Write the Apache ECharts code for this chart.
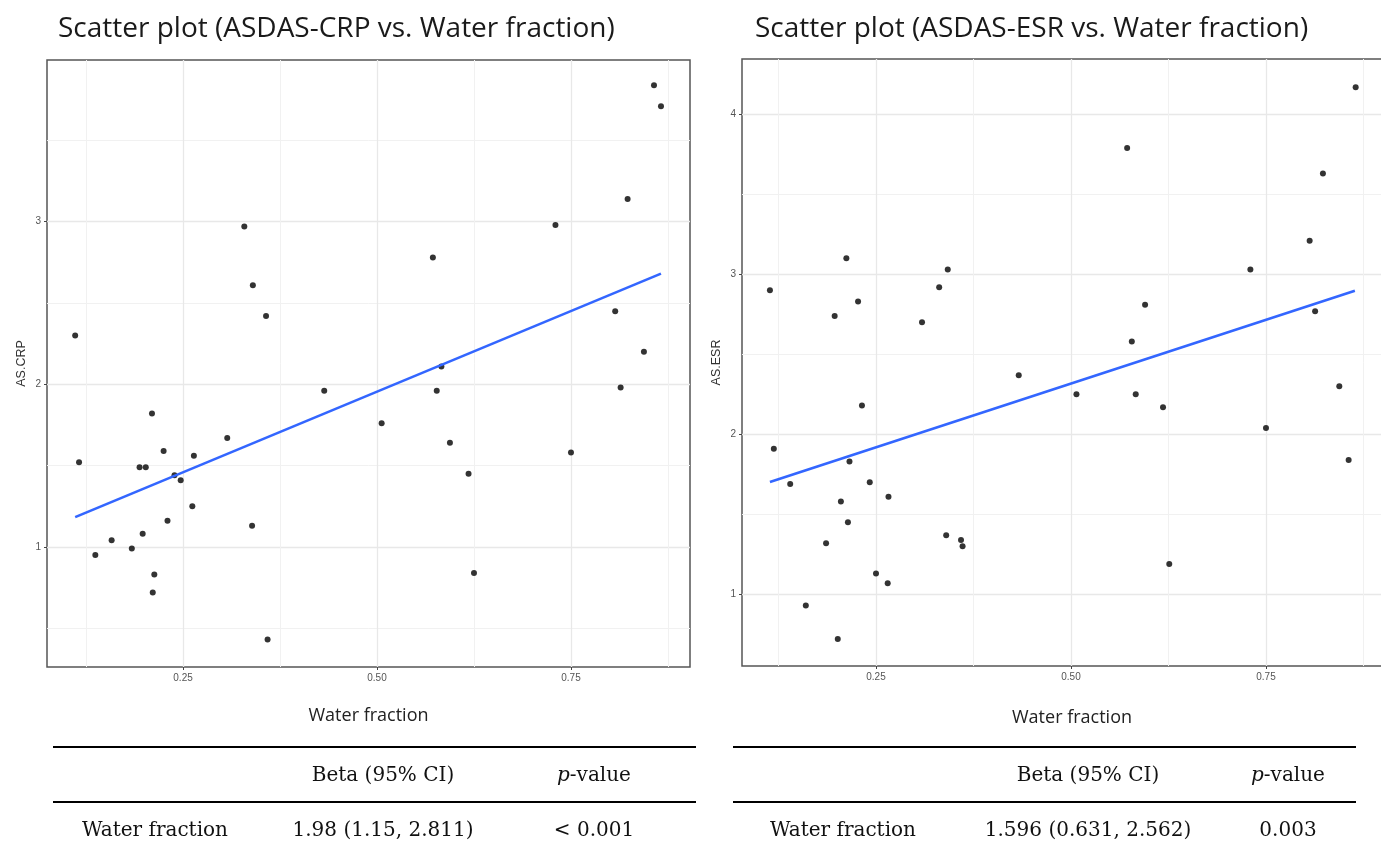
<!DOCTYPE html>
<html><head><meta charset="utf-8">
<script src="https://cdn.jsdelivr.net/npm/echarts@6/dist/echarts.min.js"></script>
<style>html,body{margin:0;padding:0;background:#fff}#c{width:1381px;height:852px}</style>
</head><body><div id="c"></div>
<script>
// ---- data ----
const crpWater = [0.111,0.329,0.340,0.357,0.857,0.866,0.823,0.730,0.572,0.807,0.844,0.583,0.116,0.137,0.158,0.184,0.194,0.202,0.198,0.210,0.213,0.211,0.225,0.230,0.239,0.247,0.262,0.264,0.307,0.339,0.359,0.432,0.577,0.506,0.594,0.618,0.625,0.750,0.814];
const crpScore = [2.30,2.97,2.61,2.42,3.84,3.71,3.14,2.98,2.78,2.45,2.20,2.11,1.52,0.95,1.04,0.99,1.49,1.49,1.08,1.82,0.83,0.72,1.59,1.16,1.44,1.41,1.25,1.56,1.67,1.13,0.43,1.96,1.96,1.76,1.64,1.45,0.84,1.58,1.98];
const esrWater = [0.114,0.197,0.212,0.227,0.309,0.331,0.342,0.433,0.865,0.572,0.823,0.806,0.730,0.595,0.578,0.813,0.844,0.119,0.140,0.160,0.186,0.201,0.205,0.214,0.216,0.232,0.242,0.250,0.265,0.266,0.340,0.359,0.361,0.507,0.583,0.618,0.626,0.750,0.856];
const esrScore = [2.90,2.74,3.10,2.83,2.70,2.92,3.03,2.37,4.17,3.79,3.63,3.21,3.03,2.81,2.58,2.77,2.30,1.91,1.69,0.93,1.32,0.72,1.58,1.45,1.83,2.18,1.70,1.13,1.07,1.61,1.37,1.34,1.30,2.25,2.25,2.17,1.19,2.04,1.84];
// fitted lines (endpoints)
const crpFitX = [0.111, 0.866];
const crpFitY = [1.183, 2.681];
const esrFitX = [0.114, 0.864];
const esrFitY = [1.702, 2.898];
// ticks
const xTicks = [0.25, 0.50, 0.75];
const xMinor = [0.125, 0.375, 0.625, 0.875];
const crpYTicks = [1, 2, 3];
const crpYMinor = [0.5, 1.5, 2.5, 3.5];
const esrYTicks = [1, 2, 3, 4];
const esrYMinor = [1.5, 2.5, 3.5];
// titles and table
const titles = ['Scatter plot (ASDAS-CRP vs. Water fraction)', 'Scatter plot (ASDAS-ESR vs. Water fraction)'];
const yNames = ['AS.CRP', 'AS.ESR'];
const xName = 'Water fraction';
const tableHeader = ['Beta (95% CI)', '{i|p}-value'];
const tableRows = [
  ['Water fraction', '1.98 (1.15, 2.811)', '< 0.001'],
  ['Water fraction', '1.596 (0.631, 2.562)', '0.003']
];

const zip = (a, b) => a.map((v, i) => [v, b[i]]);

const grids = [
  {left: 47, top: 60, width: 643, height: 607, xmin: 0.0747, xmax: 0.9034, ymin: 0.261, ymax: 3.995, yt: crpYTicks, ym: crpYMinor, nameGap: 40},
  {left: 742, top: 59, width: 660, height: 607, xmin: 0.0782, xmax: 0.9244, ymin: 0.552, ymax: 4.346, yt: esrYTicks, ym: esrYMinor, nameGap: 43}
];

const gridOpt = grids.map(g => ({left: g.left, top: g.top, width: g.width, height: g.height, show: true,
  borderColor: '#555', borderWidth: 1.5, backgroundColor: 'transparent', containLabel: false, outerBoundsMode: 'none'}));

const xAxes = [], yAxes = [];
grids.forEach((g, gi) => {
  xAxes.push({gridIndex: gi, type: 'value', min: g.xmin, max: g.xmax, position: 'top',
    axisLine: {show: false}, axisTick: {show: false, customValues: xMinor},
    axisLabel: {show: false, customValues: xMinor},
    splitLine: {show: true, lineStyle: {color: '#f1f1f1', width: 1}}});
  xAxes.push({gridIndex: gi, type: 'value', min: g.xmin, max: g.xmax, position: 'bottom',
    axisLine: {show: false},
    axisTick: {show: true, length: 3, customValues: xTicks, lineStyle: {color: '#444', width: 1}},
    axisLabel: {customValues: xTicks, formatter: v => v.toFixed(2), fontSize: 10, color: '#555', margin: 6, fontFamily: 'Liberation Sans'},
    splitLine: {show: true, lineStyle: {color: '#e8e8e8', width: 1.3}},
    name: xName, nameLocation: 'middle', nameGap: g.nameGap,
    nameTextStyle: {fontSize: 18, color: '#222', fontFamily: 'Open Sans'}});
  yAxes.push({gridIndex: gi, type: 'value', min: g.ymin, max: g.ymax, position: 'right',
    axisLine: {show: false}, axisTick: {show: false, customValues: g.ym},
    axisLabel: {show: false, customValues: g.ym},
    splitLine: {show: true, lineStyle: {color: '#f1f1f1', width: 1}}});
  yAxes.push({gridIndex: gi, type: 'value', min: g.ymin, max: g.ymax, position: 'left',
    axisLine: {show: false},
    axisTick: {show: true, length: 3, customValues: g.yt, lineStyle: {color: '#444', width: 1}},
    axisLabel: {customValues: g.yt, formatter: v => String(Math.round(v)), fontSize: 10, color: '#555', margin: 6, fontFamily: 'Liberation Sans'},
    splitLine: {show: true, lineStyle: {color: '#e8e8e8', width: 1.3}},
    name: yNames[gi], nameLocation: 'middle', nameGap: 19,
    nameTextStyle: {fontSize: 12.5, color: '#333', fontFamily: 'Liberation Sans'}});
});

const series = [
  {type: 'scatter', xAxisIndex: 1, yAxisIndex: 1, data: zip(crpWater, crpScore), symbolSize: 6, itemStyle: {color: '#000'}, silent: true},
  {type: 'line', xAxisIndex: 1, yAxisIndex: 1, data: zip(crpFitX, crpFitY), showSymbol: false, lineStyle: {color: '#3366FF', width: 2.6}, silent: true, z: 5},
  {type: 'scatter', xAxisIndex: 3, yAxisIndex: 3, data: zip(esrWater, esrScore), symbolSize: 6, itemStyle: {color: '#000'}, silent: true},
  {type: 'line', xAxisIndex: 3, yAxisIndex: 3, data: zip(esrFitX, esrFitY), showSymbol: false, lineStyle: {color: '#3366FF', width: 2.6}, silent: true, z: 5}
];

// tables
const tables = [
  {x1: 53, x2: 696, labelX: 82, c1: 383, c2: 594},
  {x1: 733, x2: 1356, labelX: 770, c1: 1088, c2: 1288}
];
const serif = 'DejaVu Serif';
const graphic = [];
tables.forEach((t, ti) => {
  [747, 802].forEach(y => graphic.push({type: 'line', shape: {x1: t.x1, y1: y, x2: t.x2, y2: y}, style: {stroke: '#000', lineWidth: 2}, silent: true}));
  const txt = (x, y, s, align) => ({type: 'text', x: x, y: y, silent: true,
    style: {text: s, fontSize: 20, fontFamily: serif, fill: '#111', align: align, verticalAlign: 'middle',
      textAlign: align, textVerticalAlign: 'middle',
      rich: {i: {fontStyle: 'italic', fontSize: 20, fontFamily: serif, fill: '#111'}}}});
  graphic.push(txt(t.c1, 776, tableHeader[0], 'center'));
  graphic.push(txt(t.c2, 776, tableHeader[1], 'center'));
  graphic.push(txt(t.labelX, 831, tableRows[ti][0], 'left'));
  graphic.push(txt(t.c1, 831, tableRows[ti][1], 'center'));
  graphic.push(txt(t.c2, 831, tableRows[ti][2], 'center'));
});

const chart = echarts.init(document.getElementById('c'), null, {renderer: 'canvas'});
chart.setOption({
  animation: false,
  backgroundColor: '#fff',
  title: [
    {text: titles[0], left: 53, top: 10, textStyle: {fontSize: 28, fontWeight: 'normal', color: '#1a1a1a', fontFamily: 'Open Sans'}},
    {text: titles[1], left: 750, top: 10, textStyle: {fontSize: 28, fontWeight: 'normal', color: '#1a1a1a', fontFamily: 'Open Sans'}}
  ],
  grid: gridOpt,
  xAxis: xAxes,
  yAxis: yAxes,
  series: series,
  graphic: graphic
});
</script></body></html>
